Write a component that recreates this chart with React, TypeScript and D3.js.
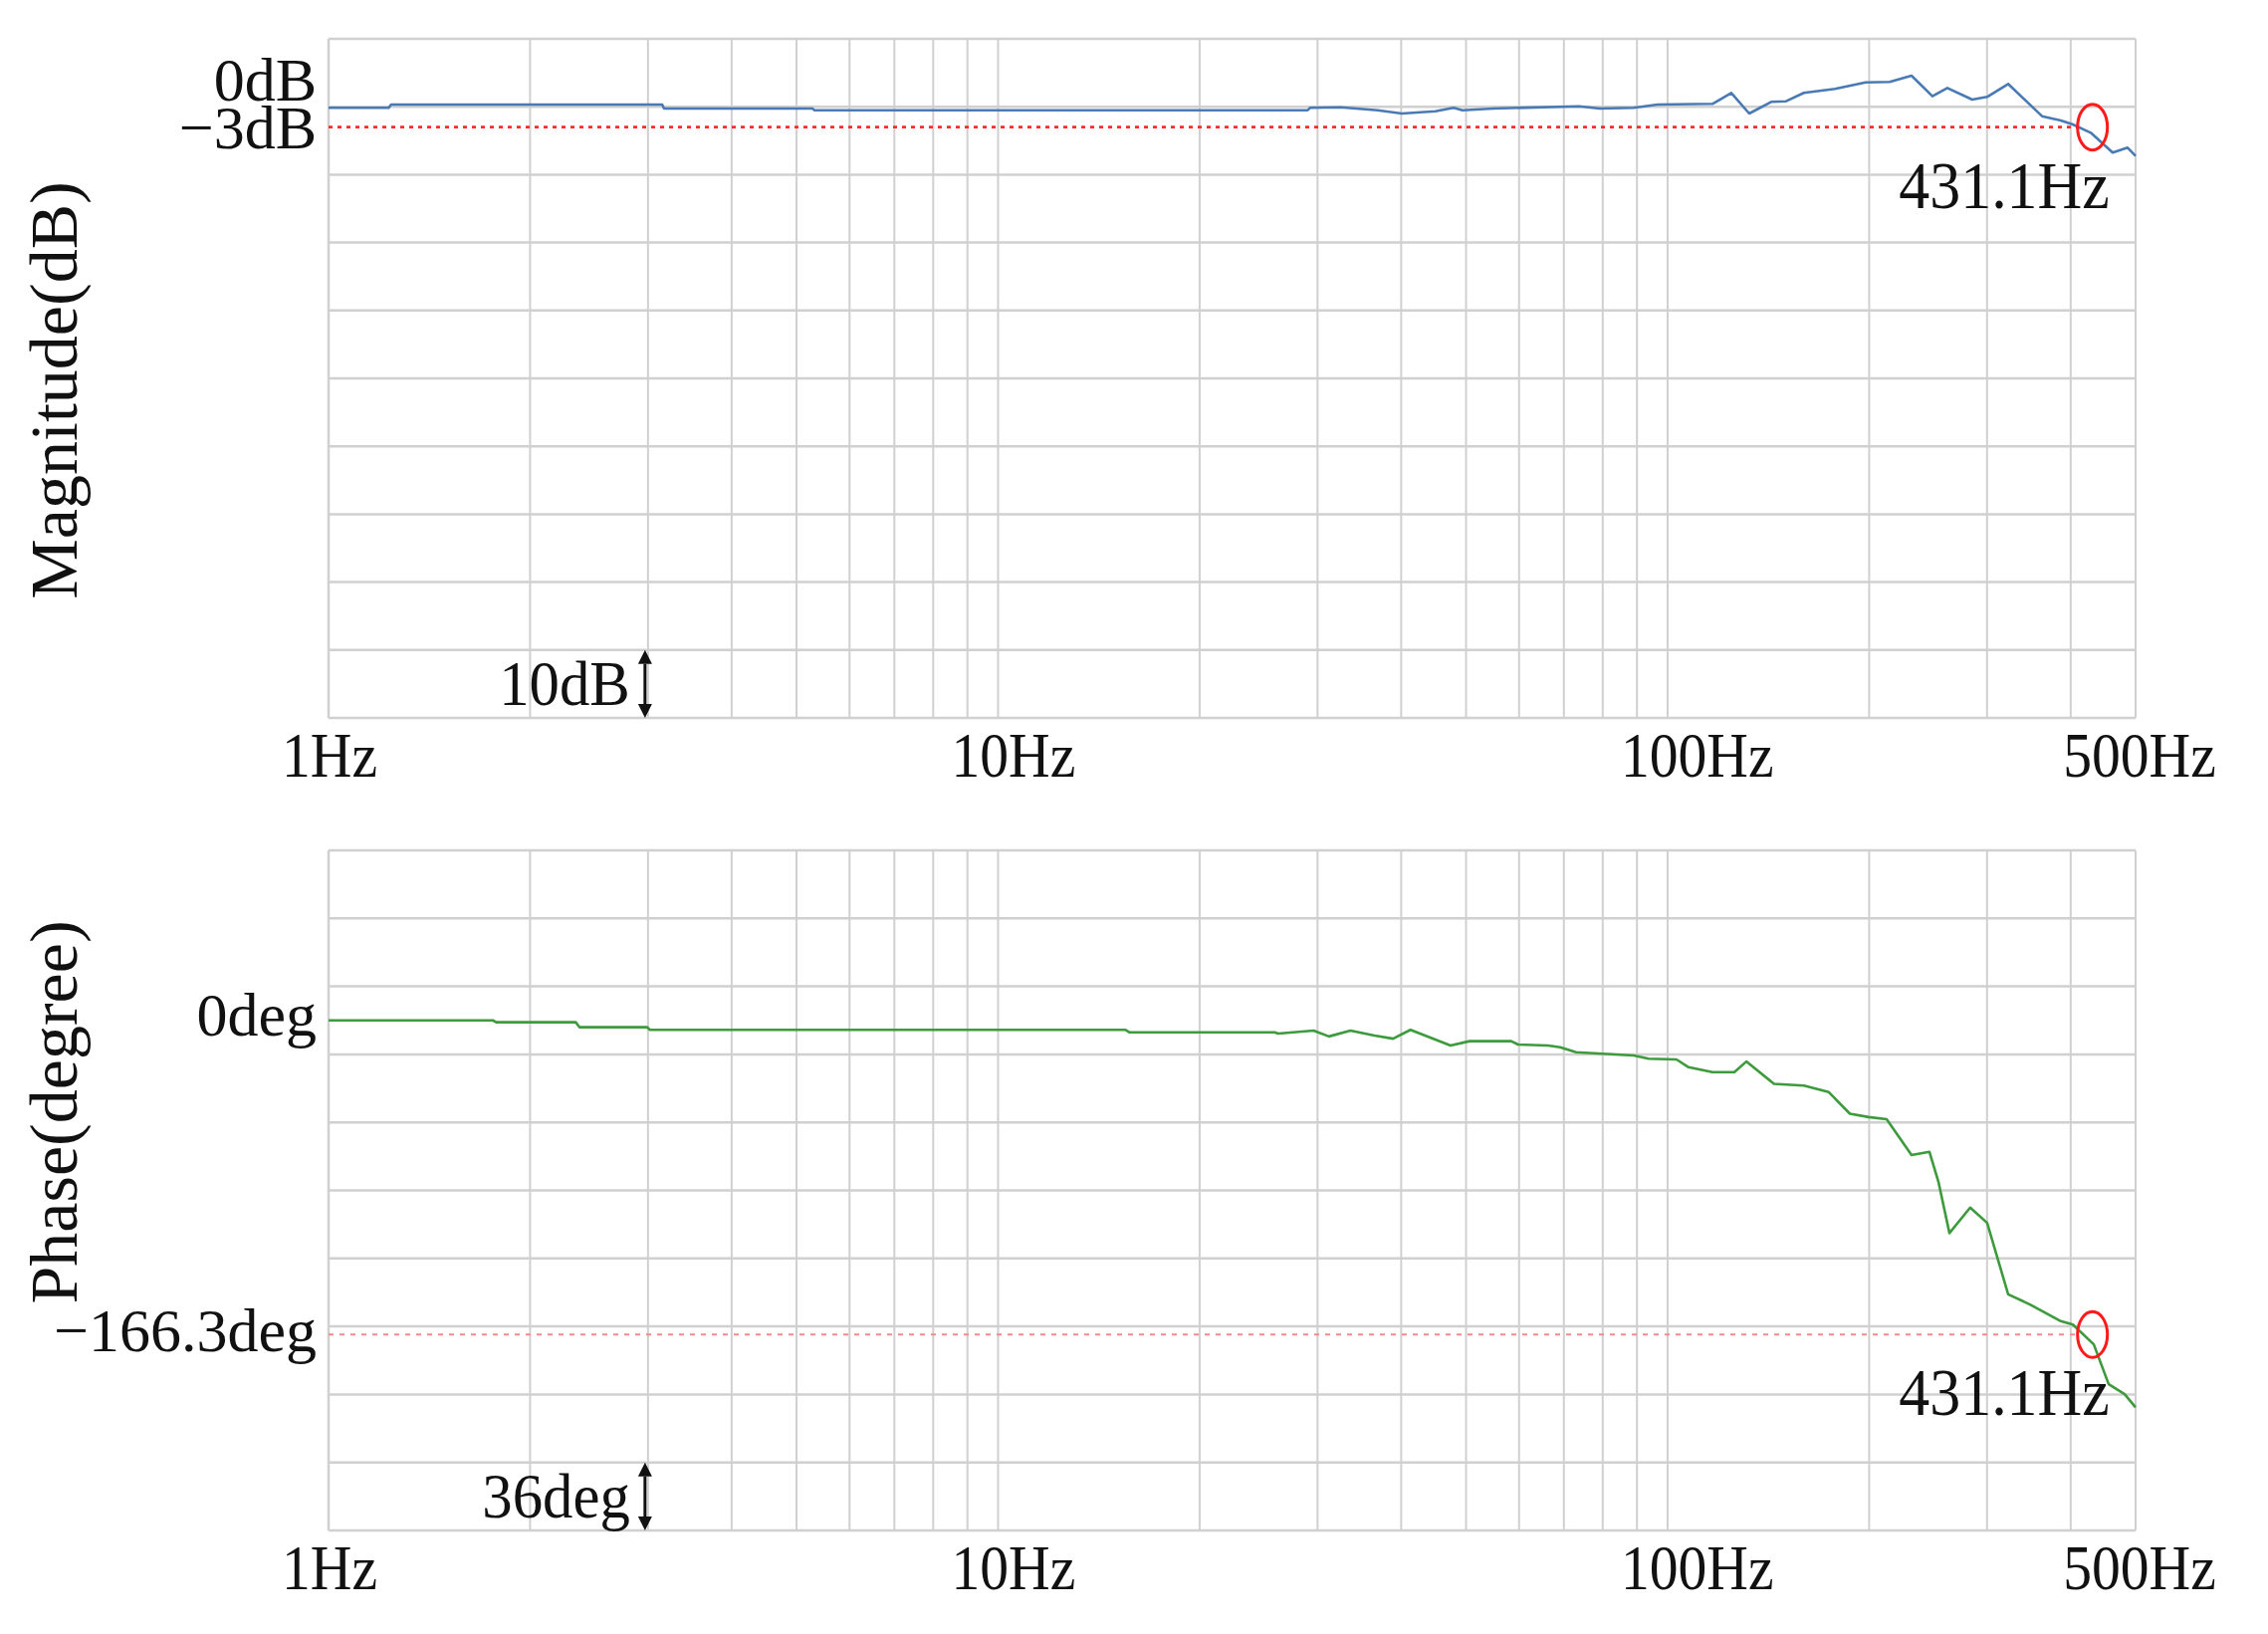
import React from "react";
import * as d3 from "d3";

// frequency axis (log)
const FREQ_RANGE = [1, 500];
const FREQ_TICKS = [1, 10, 100, 500];
const FREQ_TICK_LABELS = ["1Hz", "10Hz", "100Hz", "500Hz"];

// magnitude response (Hz, dB)
const MAG_FREQ = [
  1, 1.23, 1.24, 3.15, 3.17, 5.28, 5.32, 29.0, 29.25, 32.5, 36.9, 40.1, 45.0, 47.9,
  49.4, 54.9, 73.7, 79.2, 89.0, 96.6, 116.7, 124.5, 132.4, 142.8, 150.3, 159.8, 177.8,
  197.6, 214.6, 231.4, 248.6, 261.7, 285.1, 300.1, 322.6, 362.4, 386.6, 403, 428.6,
  462.1, 486.5, 500,
];
const MAG_DB = [
  -0.16, -0.16, 0.32, 0.32, -0.26, -0.26, -0.51, -0.51, -0.16, -0.07, -0.51, -1.0, -0.66, -0.16,
  -0.51, -0.26, 0.07, -0.26, -0.16, 0.32, 0.43, 2.04, -1.0, 0.72, 0.81, 2.04, 2.62,
  3.59, 3.65, 4.57, 1.54, 2.77, 1.06, 1.45, 3.36, -1.39, -2.02, -2.61, -3.83,
  -6.76, -6.03, -7.26,
];

// phase response (Hz, deg)
const PHASE_FREQ = [
  1, 1.76, 1.78, 2.34, 2.37, 2.99, 3.02, 15.5, 15.7, 25.9, 26.2, 29.6, 31.2, 33.6, 36.5,
  38.9, 41.3, 47.4, 50.6, 58.4, 59.8, 66.3, 69.1, 73.0, 89.0, 93.7, 103.1, 107.5, 116.7,
  125.8, 131.1, 144.2, 159.8, 174.1, 187.2, 199.7, 212.4, 231.4, 246.1, 253.8, 263.6,
  283.1, 300.1, 322.6, 347.8, 386.6, 403, 433, 455.8, 481.5, 500,
];
const PHASE_DEG = [
  0, 0, -1.0, -1.0, -3.6, -3.6, -5.0, -5.0, -6.3, -6.3, -7.0, -5.4, -8.5, -5.4, -8.0,
  -9.7, -5.0, -13.3, -11.0, -11.0, -12.8, -13.3, -14.2, -16.9, -18.6, -20.3, -20.7, -24.8, -27.4,
  -27.4, -21.8, -33.6, -34.5, -38.0, -49.4, -51.2, -52.3, -71.3, -69.6, -85.4, -112.6,
  -99.1, -107.2, -145.0, -150.4, -159.2, -161.0, -171.5, -192.6, -197.9, -204.8,
];

const CUTOFF_FREQ = 431.1;
const CUTOFF_LABEL = "431.1Hz";

const MAG_DOMAIN = [-90, 10];
const MAG_STEP = 10;
const MAG_TICK_VALUES = [0, -3];
const MAG_TICK_LABELS = ["0dB", "\u22123dB"];
const MAG_SCALE_LABEL = "10dB";

const PHASE_DOMAIN = [-270, 90];
const PHASE_STEP = 36;
const PHASE_TICK_VALUES = [0, -166.3];
const PHASE_TICK_LABELS = ["0deg", "\u2212166.3deg"];
const PHASE_SCALE_LABEL = "36deg";

const W = 2278;
const H = 1641;
const X0 = 330;
const X1 = 2145;
const FONT = "'Liberation Serif', 'DejaVu Serif', serif";
const GRID = "#d0d0d0";

const x = d3.scaleLog().domain(FREQ_RANGE).range([X0, X1]);

function Label({ x, y, anchor = "start", size = 64, sx = 0.9, children }: any) {
  return (
    <text
      transform={`translate(${x},${y}) scale(${sx},1)`}
      textAnchor={anchor}
      fontSize={size}
      fontFamily={FONT}
      fill="#111"
    >
      {children}
    </text>
  );
}

function Panel(props: any) {
  const { top, bottom, domain, step, freqs, values, color, refValue, refColor, refWidth, refDash,
    tickValues, tickLabels, tickDy, scaleLabel, title, titleY } = props;

  const y = d3.scaleLinear().domain(domain).range([bottom, top]);
  const line = d3.line<number>()
    .x((_, i) => x(freqs[i]))
    .y(v => y(v));

  const hLines = d3.range(domain[0], domain[1] + step / 2, step);
  const vLines = x.ticks();

  const cx = x(CUTOFF_FREQ);
  const cy = y(refValue);
  const rx = 15, ry = 23;

  // scale indicator arrow, sits just left of the 3Hz line over the last division
  const ax = x(3) - 3;
  const ay1 = y(domain[0] + step);
  const ay2 = y(domain[0]);
  const head = 14;

  return (
    <g>
      {hLines.map(v => (
        <line key={"h" + v} x1={X0} x2={X1} y1={y(v)} y2={y(v)} stroke={GRID} strokeWidth={2.5} />
      ))}
      {vLines.map(f => (
        <line key={"v" + f} x1={x(f)} x2={x(f)} y1={top} y2={bottom} stroke={GRID} strokeWidth={2} />
      ))}
      <line x1={X0} x2={X0} y1={top} y2={bottom} stroke={GRID} strokeWidth={2.5} />

      <line x1={X0} x2={cx - rx} y1={cy} y2={cy}
        stroke={refColor} strokeWidth={refWidth} strokeDasharray={refDash} />

      <path d={line(values) || ""} fill="none" stroke={color} strokeWidth={2.6} strokeLinejoin="round" />

      <ellipse cx={cx} cy={cy} rx={rx} ry={ry} fill="none" stroke="#ff1a1a" strokeWidth={3} />
      <Label x={cx + 17} y={cy + 81} anchor="end" size={68} sx={0.91}>{CUTOFF_LABEL}</Label>

      {tickValues.map((v: number, i: number) => (
        <Label key={"t" + i} x={318} y={y(v) + tickDy[i]} anchor="end" size={62} sx={1}>{tickLabels[i]}</Label>
      ))}

      <line x1={ax} x2={ax} y1={ay1 + head} y2={ay2 - head} stroke="#111" strokeWidth={3} />
      <path d={`M${ax},${ay1} L${ax - 7},${ay1 + head} L${ax + 7},${ay1 + head} Z`} fill="#111" />
      <path d={`M${ax},${ay2} L${ax - 7},${ay2 - head} L${ax + 7},${ay2 - head} Z`} fill="#111" />
      <Label x={ax - 15} y={y(domain[0] + step / 2) + 21} anchor="end" size={64} sx={0.95}>{scaleLabel}</Label>

      {FREQ_TICKS.map((f, i) => (
        i < FREQ_TICKS.length - 1
          ? <Label key={"x" + f} x={x(f) - 47} y={bottom + 59} anchor="start">{FREQ_TICK_LABELS[i]}</Label>
          : <Label key={"x" + f} x={x(f) + 4} y={bottom + 59} anchor="middle">{FREQ_TICK_LABELS[i]}</Label>
      ))}

      <text
        transform={`translate(77,${titleY}) rotate(-90)`}
        textAnchor="middle"
        fontSize={68}
        fontFamily={FONT}
        fill="#111"
      >
        {title}
      </text>
    </g>
  );
}

export default function App() {
  return (
    <svg width={W} height={H} style={{ position: "absolute", left: 0, top: 0, background: "#fff" }}>
      <rect width={W} height={H} fill="#fff" />
      <Panel
        top={39} bottom={721}
        domain={MAG_DOMAIN} step={MAG_STEP}
        freqs={MAG_FREQ} values={MAG_DB} color="#4a7ab4"
        refValue={-3} refColor="#ff2a2a" refWidth={2.6} refDash="4,5"
        tickValues={MAG_TICK_VALUES} tickLabels={MAG_TICK_LABELS} tickDy={[-6, 21]}
        scaleLabel={MAG_SCALE_LABEL}
        title="Magnitude(dB)" titleY={392}
      />
      <Panel
        top={854} bottom={1537}
        domain={PHASE_DOMAIN} step={PHASE_STEP}
        freqs={PHASE_FREQ} values={PHASE_DEG} color="#3d9a3d"
        refValue={-166.3} refColor="#f28c8c" refWidth={1.8} refDash="5,6"
        tickValues={PHASE_TICK_VALUES} tickLabels={PHASE_TICK_LABELS} tickDy={[15, 17]}
        scaleLabel={PHASE_SCALE_LABEL}
        title="Phase(degree)" titleY={1117}
      />
    </svg>
  );
}
